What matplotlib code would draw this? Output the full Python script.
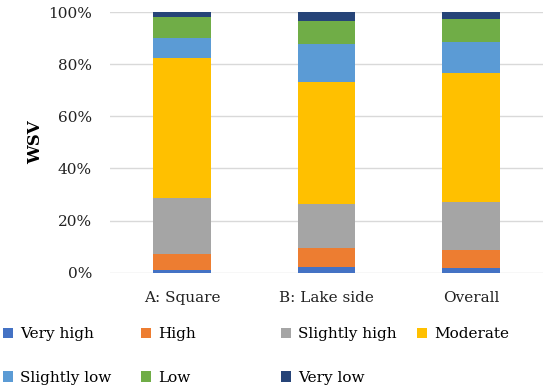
import matplotlib
matplotlib.use("Agg")
import matplotlib.pyplot as plt
from matplotlib.patches import Patch
import numpy as np

categories = ["A: Square", "B: Lake side", "Overall"]
series_names = ["Very high", "High", "Slightly high", "Moderate", "Slightly low", "Low", "Very low"]
very_high = [1.0, 2.1, 1.7]
high = [6.3, 7.3, 7.0]
slightly_high = [21.2, 17.0, 18.4]
moderate = [53.7, 46.7, 49.6]
slightly_low = [8.0, 14.5, 11.9]
low = [7.8, 9.1, 8.6]
very_low = [2.0, 3.3, 2.8]
values = [very_high, high, slightly_high, moderate, slightly_low, low, very_low]
colors = ["#4472C4", "#ED7D31", "#A5A5A5", "#FFC000", "#5B9BD5", "#70AD47", "#264478"]
yticks = [0, 20, 40, 60, 80, 100]
ytick_labels = ["0%", "20%", "40%", "60%", "80%", "100%"]

plt.rcParams['font.family'] = ['DejaVu Serif']
fig = plt.figure(figsize=(5.5, 3.92), dpi=100)
ax = fig.add_axes([110/550, 1-272.7/392, (543-110)/550, (272.7-12)/392])

x = np.arange(len(categories))
bottom = np.zeros(len(categories))
for name, vals, c in zip(series_names, values, colors):
    ax.bar(x, vals, bottom=bottom, width=0.40, color=c, label=name, zorder=3)
    bottom += np.array(vals)

ax.set_xlim(-0.5, 2.5)
ax.set_ylim(0, 100)
ax.set_yticks(yticks)
ax.set_yticklabels(ytick_labels, fontsize=11)
ax.set_xticks(x)
ax.set_xticklabels(categories, fontsize=11)
ax.tick_params(length=0, colors="#222222")
ax.tick_params(axis='y', pad=13)
ax.tick_params(axis='x', pad=13)
ax.grid(axis='y', color="#D9D9D9", linewidth=1, zorder=0)
for s in ax.spines.values():
    s.set_visible(False)
ax.set_ylabel("WSV", fontsize=12, fontweight='bold', labelpad=3)

handles = [Patch(facecolor=c, label=n) for n, c in zip(series_names, colors)]
col_x = [3, 141, 281, 417]
for i in range(4):
    hs = [handles[i]]
    if i + 4 < len(handles):
        hs.append(handles[i + 4])
    fig.legend(handles=hs, loc='upper left', bbox_to_anchor=(col_x[i]/550, 1-327/392),
               frameon=False, fontsize=11, handlelength=0.65, handleheight=0.65,
               handletextpad=0.45, labelspacing=1.95, borderaxespad=0, borderpad=0)

fig.savefig("out.png", dpi=100)
